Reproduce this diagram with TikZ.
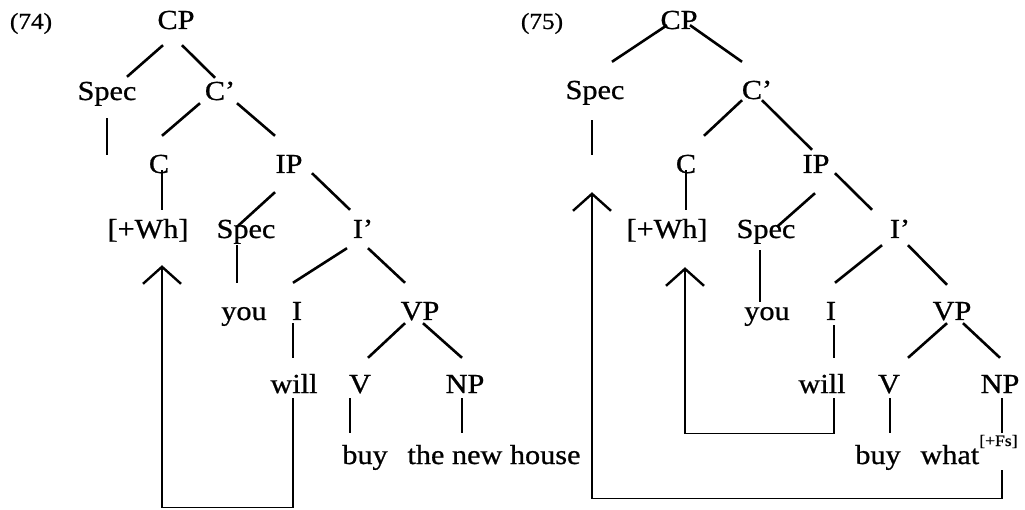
\documentclass[tikz,border=0pt]{standalone}
\usepackage{fontspec}
\setmainfont[FakeStretch=1.1,FakeBold=0.8]{Liberation Serif}
\usetikzlibrary{arrows.meta}

\begin{document}
\begin{tikzpicture}[x=1pt,y=-1pt,
	lab/.style={inner sep=0pt,text height=18pt,text depth=0pt,font=\fontsize{27.5}{32}\selectfont},
	num/.style={inner sep=0pt,text height=16pt,text depth=0pt,font=\fontsize{23}{27}\selectfont},
	edge/.style={black,line width=2.6pt},
	stem/.style={black,line width=1.4pt},
	move/.style={black,line width=1.4pt,-{Straight Barb[length=17pt,width=38pt,line width=2.4pt]}}]
	\useasboundingbox (0,0) rectangle (1025,510);
	\node[num] (numA) at (31,21) {(74)};
	\node[lab] (cpA) at (176,20) {CP};
	\node[lab] (specA) at (107,91) {Spec};
	\node[lab] (cbarA) at (220,91) {C’};
	\node[lab] (cA) at (159,164) {C};
	\node[lab] (ipA) at (289,164) {IP};
	\node[lab] (whA) at (148,229) {[+Wh]};
	\node[lab] (spectwoA) at (246,229) {Spec};
	\node[lab] (ibarA) at (363,229) {I’};
	\node[lab] (youA) at (244,311) {you};
	\node[lab] (iA) at (297,311) {I};
	\node[lab] (vpA) at (420,311) {VP};
	\node[lab] (willA) at (294,384) {will};
	\node[lab] (vA) at (360,384) {V};
	\node[lab] (npA) at (465,384) {NP};
	\node[lab] (buyA) at (365,455) {buy};
	\node[lab] (houseA) at (494,455) {the new house};
	\coordinate (specAend) at (107,155);
	\draw[edge] ([shift={(-13,16)}]cpA.south) -- ([shift={(20,-5)}]specA.north);
	\draw[edge] ([shift={(6,16)}]cpA.south) -- ([shift={(-5,-4)}]cbarA.north);
	\draw[stem] ([shift={(0,18)}]specA.south) -- (specAend);
	\draw[edge] ([shift={(-20,3)}]cbarA.south) -- ([shift={(3,-19)}]cA.north);
	\draw[edge] ([shift={(17,3)}]cbarA.south) -- ([shift={(-14,-19)}]ipA.north);
	\draw[stem] ([shift={(3,-3)}]cA.south) -- ([shift={(14,-10)}]whA.north);
	\draw[edge] ([shift={(-14,19)}]ipA.south) -- ([shift={(-9,7)}]spectwoA.north);
	\draw[edge] ([shift={(23,0)}]ipA.south) -- ([shift={(-13,-10)}]ibarA.north);
	\draw[stem] ([shift={(-9,7)}]spectwoA.south) -- ([shift={(-7,-19)}]youA.north);
	\draw[edge] ([shift={(-16,10)}]ibarA.south) -- ([shift={(-4,-19)}]iA.north);
	\draw[edge] ([shift={(5,10)}]ibarA.south) -- ([shift={(-15,-19)}]vpA.north);
	\draw[stem] ([shift={(-4,3)}]iA.south) -- ([shift={(-1,-17)}]willA.north);
	\draw[edge] ([shift={(-15,3)}]vpA.south) -- ([shift={(8,-17)}]vA.north);
	\draw[edge] ([shift={(3,3)}]vpA.south) -- ([shift={(-3,-17)}]npA.north);
	\draw[stem] ([shift={(-10,5)}]vA.south) -- ([shift={(-15,-13)}]buyA.north);
	\draw[stem] ([shift={(-3,5)}]npA.south) -- ([shift={(-32,-13)}]houseA.north);
	\draw[move] ([shift={(-1,5)}]willA.south) -- ++(0,109) -| ([shift={(14,27)}]whA.south);
	\node[num] (numB) at (542,21) {(75)};
	\node[lab] (cpB) at (679,20) {CP};
	\node[lab] (specB) at (595,90) {Spec};
	\node[lab] (cbarB) at (757,90) {C’};
	\node[lab] (cB) at (686,164) {C};
	\node[lab] (ipB) at (816,164) {IP};
	\node[lab] (whB) at (667,229) {[+Wh]};
	\node[lab] (spectwoB) at (766,229) {Spec};
	\node[lab] (ibarB) at (900,229) {I’};
	\node[lab] (youB) at (767,311) {you};
	\node[lab] (iB) at (831,311) {I};
	\node[lab] (vpB) at (952,311) {VP};
	\node[lab] (willB) at (822,384) {will};
	\node[lab] (vB) at (889,384) {V};
	\node[lab] (npB) at (1000,384) {NP};
	\node[lab] (buyB) at (878,455) {buy};
	\node[lab] (whatB) at (969,455) {what\raisebox{18pt}{\fontsize{16}{18}\selectfont[+Fs]}};
	\coordinate (specBend) at (592,155);
	\draw[edge] ([shift={(-12,-4)}]cpB.south) -- ([shift={(17,-19)}]specB.north);
	\draw[edge] ([shift={(11,-4)}]cpB.south) -- ([shift={(-15,-19)}]cbarB.north);
	\draw[stem] ([shift={(-3,21)}]specB.south) -- (specBend);
	\draw[edge] ([shift={(-15,1)}]cbarB.south) -- ([shift={(18,-19)}]cB.north);
	\draw[edge] ([shift={(5,1)}]cbarB.south) -- ([shift={(-4,-5)}]ipB.north);
	\draw[stem] ([shift={(0,-3)}]cB.south) -- ([shift={(19,-10)}]whB.north);
	\draw[edge] ([shift={(-1,20)}]ipB.south) -- ([shift={(11,7)}]spectwoB.north);
	\draw[edge] ([shift={(19,0)}]ipB.south) -- ([shift={(-28,-10)}]ibarB.north);
	\draw[stem] ([shift={(-6,12)}]spectwoB.south) -- ([shift={(-7,0)}]youB.north);
	\draw[edge] ([shift={(-18,7)}]ibarB.south) -- ([shift={(4,-19)}]iB.north);
	\draw[edge] ([shift={(8,7)}]ibarB.south) -- ([shift={(-5,-17)}]vpB.north);
	\draw[stem] ([shift={(3,5)}]iB.south) -- ([shift={(12,-17)}]willB.north);
	\draw[edge] ([shift={(-5,3)}]vpB.south) -- ([shift={(19,-17)}]vB.north);
	\draw[edge] ([shift={(11,3)}]vpB.south) -- ([shift={(0,-17)}]npB.north);
	\draw[stem] ([shift={(1,5)}]vB.south) -- ([shift={(12,-13)}]buyB.north);
	\draw[stem] ([shift={(2,5)}]npB.south) -- ([shift={(33,-13)}]whatB.north);
	\draw[move] ([shift={(12,5)}]willB.south) -- ++(0,35) -| ([shift={(18,29)}]whB.south);
	\draw[move] ([shift={(33,6)}]whatB.south) -- ++(0,28) -| ([shift={(-3,93)}]specB.south);
\end{tikzpicture}
\end{document}
